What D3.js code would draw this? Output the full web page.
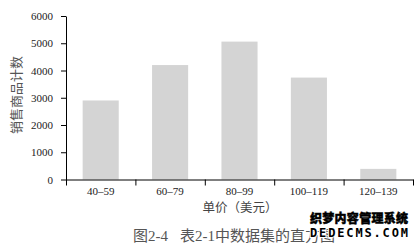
<!DOCTYPE html>
<html>
<head>
<meta charset="utf-8">
<script src="https://cdn.jsdelivr.net/npm/d3@7"></script>
<style>
  body { margin: 0; background: #fff; }
  .axis path, .axis line { stroke: #000; }
</style>
</head>
<body>
<script>
// histogram of table 2-1: item counts by unit price
var w = 418, h = 247;
var margin = {top: 16, right: 5, bottom: 67.5, left: 66};

var priceBins = ["40–59", "60–79", "80–99", "100–119", "120–139"];
var itemCounts = [2900, 4200, 5060, 3740, 390];
var yTicks = [0, 1000, 2000, 3000, 4000, 5000, 6000];

window.onload = function(){

    var svg = d3.select("body")
        .append("svg")
        .attr("width", w)
        .attr("height", h);

    var x = d3.scaleBand()
        .domain(priceBins)
        .range([margin.left, w - margin.right])
        .paddingInner(0.48)
        .paddingOuter(0.24);

    // boundary scale for the ticks between bins
    var xEdge = d3.scaleLinear()
        .domain([0, priceBins.length])
        .range([margin.left, w - margin.right]);

    var y = d3.scaleLinear()
        .domain([0, 6000])
        .range([h - margin.bottom, margin.top]);

    //bars
    svg.selectAll(".bar")
        .data(itemCounts)
        .enter()
        .append("rect")
        .attr("class", "bar")
        .attr("x", function(d, i){ return x(priceBins[i]); })
        .attr("width", x.bandwidth())
        .attr("y", function(d){ return y(d); })
        .attr("height", function(d){ return y(0) - y(d); })
        .style("fill", "#d4d4d4");

    //y axis
    svg.append("g")
        .attr("class", "axis")
        .attr("transform", "translate(" + margin.left + ",0)")
        .call(d3.axisLeft(y).tickValues(yTicks).tickFormat(d3.format("d"))
            .tickSize(5).tickSizeOuter(0).tickPadding(8));

    //x axis boundary ticks
    svg.append("g")
        .attr("class", "axis")
        .attr("transform", "translate(0," + y(0) + ")")
        .call(d3.axisBottom(xEdge).tickValues(d3.range(priceBins.length + 1))
            .tickFormat("").tickSize(6).tickSizeOuter(0));

    //x labels at bin centres
    var xLab = svg.append("g")
        .attr("class", "axis")
        .attr("transform", "translate(0," + y(0) + ")")
        .call(d3.axisBottom(x).tickSize(0).tickPadding(8));
    xLab.select(".domain").remove();

    svg.selectAll(".axis text")
        .attr("font-family", null)
        .style("font-family", "'Liberation Serif', serif")
        .style("font-size", "11px")
        .style("fill", "#222");

    //y title
    svg.append("text")
        .attr("transform", "translate(21,95) rotate(-90)")
        .attr("text-anchor", "middle")
        .style("font-family", "Noto Sans CJK SC")
        .style("font-size", "13px")
        .style("fill", "#555")
        .text("销售商品计数");

    //x title
    svg.append("text")
        .attr("x", 240)
        .attr("y", 212)
        .attr("text-anchor", "middle")
        .style("font-family", "Noto Sans CJK SC")
        .style("font-size", "12.5px")
        .style("fill", "#444")
        .text("单价（美元）");

    //caption
    var cap = svg.append("g")
        .style("font-family", "'Liberation Serif', 'Noto Sans CJK SC'")
        .style("font-size", "15px")
        .style("fill", "#555");
    cap.append("text").attr("x", 133).attr("y", 240.5).text("图2-4");
    cap.append("text").attr("x", 180).attr("y", 240.5).text("表2-1中数据集的直方图");

    //watermark
    svg.append("text")
        .attr("x", 310)
        .attr("y", 223)
        .attr("textLength", 98)
        .style("font-family", "Noto Sans CJK SC")
        .style("font-weight", "900")
        .style("font-size", "12px")
        .style("fill", "#000")
        .style("stroke", "#000")
        .style("stroke-width", 0.5)
        .text("织梦内容管理系统");
    svg.append("text")
        .attr("x", 310)
        .attr("y", 237)
        .attr("textLength", 98)
        .style("font-family", "DejaVu Sans Mono")
        .style("font-weight", "bold")
        .style("font-size", "12px")
        .style("fill", "#000")
        .style("paint-order", "stroke")
        .style("stroke", "#fff")
        .style("stroke-width", 2)
        .text("DEDECMS.COM");
};
</script>
</body>
</html>
